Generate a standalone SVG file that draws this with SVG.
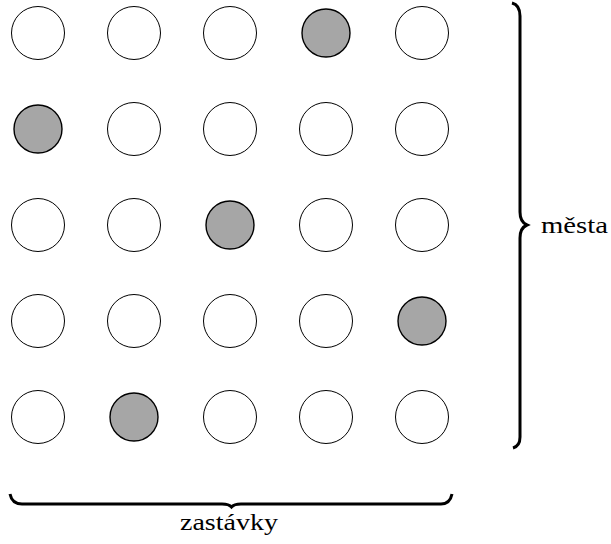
<svg xmlns="http://www.w3.org/2000/svg" width="611" height="544" viewBox="0 0 611 544">
<style>
.w{fill:#ffffff;stroke:#000000;stroke-width:1}
.g{fill:#a6a6a6;stroke:#000000;stroke-width:1.4}
.brace{fill:none;stroke:#000000;stroke-width:3;stroke-linecap:butt}
.lbl{font-family:"Liberation Serif","DejaVu Serif",serif;font-size:23px;fill:#000000}
</style>
<rect width="611" height="544" fill="#ffffff"/>
<g id="n00"><circle class="w" cx="38" cy="33" r="26.5"/></g>
<g id="n01"><circle class="w" cx="134" cy="33" r="26.5"/></g>
<g id="n02"><circle class="w" cx="230" cy="33" r="26.5"/></g>
<g id="n03"><circle class="g" cx="326" cy="33" r="24"/></g>
<g id="n04"><circle class="w" cx="422" cy="33" r="26.5"/></g>
<g id="n10"><circle class="g" cx="38" cy="129" r="24"/></g>
<g id="n11"><circle class="w" cx="134" cy="129" r="26.5"/></g>
<g id="n12"><circle class="w" cx="230" cy="129" r="26.5"/></g>
<g id="n13"><circle class="w" cx="326" cy="129" r="26.5"/></g>
<g id="n14"><circle class="w" cx="422" cy="129" r="26.5"/></g>
<g id="n20"><circle class="w" cx="38" cy="225" r="26.5"/></g>
<g id="n21"><circle class="w" cx="134" cy="225" r="26.5"/></g>
<g id="n22"><circle class="g" cx="230" cy="225" r="24"/></g>
<g id="n23"><circle class="w" cx="326" cy="225" r="26.5"/></g>
<g id="n24"><circle class="w" cx="422" cy="225" r="26.5"/></g>
<g id="n30"><circle class="w" cx="38" cy="321" r="26.5"/></g>
<g id="n31"><circle class="w" cx="134" cy="321" r="26.5"/></g>
<g id="n32"><circle class="w" cx="230" cy="321" r="26.5"/></g>
<g id="n33"><circle class="w" cx="326" cy="321" r="26.5"/></g>
<g id="n34"><circle class="g" cx="422" cy="321" r="24"/></g>
<g id="n40"><circle class="w" cx="38" cy="417" r="26.5"/></g>
<g id="n41"><circle class="g" cx="134" cy="417" r="24"/></g>
<g id="n42"><circle class="w" cx="230" cy="417" r="26.5"/></g>
<g id="n43"><circle class="w" cx="326" cy="417" r="26.5"/></g>
<g id="n44"><circle class="w" cx="422" cy="417" r="26.5"/></g>
<g id="connectors">
<path class="brace" d="M512,3 Q520,5 520,16 L520,212 Q520,222 527,225 Q520,228 520,238 L520,437 Q520,446 513,448"/>
<path class="brace" d="M10,494 Q12,504 22,504 L222,504 Q229,504 231.5,507 Q234,504 241,504 L441,504 Q450,504 452,494"/>
</g>
<g id="label-mesta"><text class="lbl" x="541" y="233" textLength="67" lengthAdjust="spacingAndGlyphs">města</text></g>
<g id="label-zastavky"><text class="lbl" x="180" y="530" textLength="98" lengthAdjust="spacingAndGlyphs">zastávky</text></g>
</svg>
